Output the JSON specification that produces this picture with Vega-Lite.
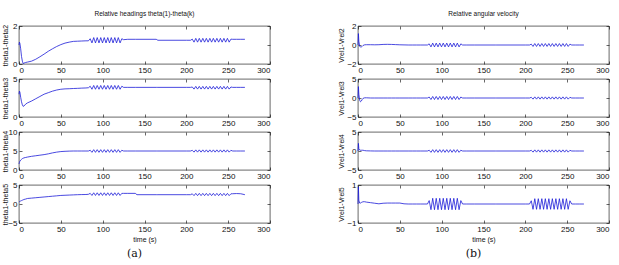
{
  "$schema": "https://vega.github.io/schema/vega-lite/v6.json",
  "padding": {"left": 0, "top": 10, "right": 2, "bottom": 2},
  "data": {"values": [
    {"t":0,"a1":1.0,"a2":3.0,"a3":1.6,"a4":0.5,"b1":0,"b2":0,"b3":0,"b4":0},
    {"t":0.5,"a1":1.15,"a2":3.4,"a3":2.0,"a4":0.6,"b1":1.2,"b2":3.0,"b3":2.0,"b4":0.9},
    {"t":1,"a1":1.1,"a2":3.3,"a3":2.3,"a4":0.7,"b1":0.4,"b2":1.0,"b3":0.6,"b4":0.2},
    {"t":2,"a1":0.8,"a2":2.6,"a3":2.6,"a4":0.8,"b1":-0.15,"b2":-0.6,"b3":0.25,"b4":0.05},
    {"t":3,"a1":0.4,"a2":2.0,"a3":2.8,"a4":0.9,"b1":-0.2,"b2":-1.0,"b3":0.2,"b4":0.05},
    {"t":4,"a1":0.15,"a2":1.6,"a3":3.0,"a4":1.0,"b1":-0.2,"b2":-0.8,"b3":0.2,"b4":0.08},
    {"t":5,"a1":0.02,"a2":1.4,"a3":3.1,"a4":1.1,"b1":-0.15,"b2":-0.4,"b3":0.2,"b4":0.1},
    {"t":6,"a1":0.05,"a2":1.45,"a3":3.2,"a4":1.2,"b1":-0.05,"b2":-0.1,"b3":0.2,"b4":0.12},
    {"t":8,"a1":0.08,"a2":1.7,"a3":3.3,"a4":1.3,"b1":0.02,"b2":0.05,"b3":0.1,"b4":0.12},
    {"t":10,"a1":0.1,"a2":1.85,"a3":3.4,"a4":1.45,"b1":0.03,"b2":0.05,"b3":0.05,"b4":0.1},
    {"t":15,"a1":0.15,"a2":2.1,"a3":3.6,"a4":1.55,"b1":0.03,"b2":0,"b3":0.02,"b4":0.07},
    {"t":20,"a1":0.25,"a2":2.4,"a3":3.75,"a4":1.65,"b1":0.02,"b2":0,"b3":0,"b4":0.04},
    {"t":25,"a1":0.38,"a2":2.7,"a3":3.9,"a4":1.75,"b1":0.03,"b2":0,"b3":0,"b4":0.01},
    {"t":30,"a1":0.52,"a2":3.0,"a3":4.05,"a4":1.85,"b1":0.06,"b2":0,"b3":0,"b4":0.04},
    {"t":35,"a1":0.67,"a2":3.2,"a3":4.25,"a4":1.95,"b1":0.07,"b2":0,"b3":0,"b4":0.05},
    {"t":40,"a1":0.8,"a2":3.4,"a3":4.5,"a4":2.05,"b1":0.06,"b2":0,"b3":0,"b4":0.05},
    {"t":45,"a1":0.92,"a2":3.55,"a3":4.7,"a4":2.15,"b1":0.04,"b2":0,"b3":0,"b4":0.05},
    {"t":50,"a1":1.02,"a2":3.65,"a3":4.85,"a4":2.25,"b1":0.02,"b2":0,"b3":0,"b4":0.05},
    {"t":55,"a1":1.1,"a2":3.7,"a3":4.92,"a4":2.3,"b1":0.01,"b2":0,"b3":0,"b4":0.01},
    {"t":60,"a1":1.15,"a2":3.72,"a3":4.97,"a4":2.35,"b1":0,"b2":0,"b3":0,"b4":0},
    {"t":65,"a1":1.19,"a2":3.75,"a3":5.0,"a4":2.4,"b1":0,"b2":0,"b3":0,"b4":0},
    {"t":70,"a1":1.2,"a2":3.77,"a3":5.0,"a4":2.45,"b1":0,"b2":0,"b3":0,"b4":0},
    {"t":75,"a1":1.21,"a2":3.8,"a3":5.0,"a4":2.48,"b1":0,"b2":0,"b3":0,"b4":0},
    {"t":80,"a1":1.22,"a2":3.82,"a3":5.0,"a4":2.5,"b1":0,"b2":0,"b3":0,"b4":0},
    {"t":83,"a1":1.22,"a2":3.85,"a3":5.0,"a4":2.55,"b1":0,"b2":0,"b3":0,"b4":0},
    {"t":85.1,"a1":1.33,"a2":4.05,"a3":5.2,"a4":2.8,"b1":0.12,"b2":0.25,"b3":0.2,"b4":0.18},
    {"t":87.2,"a1":1.11,"a2":3.65,"a3":4.65,"a4":2.25,"b1":-0.2,"b2":-0.4,"b3":-0.35,"b4":-0.3},
    {"t":89.3,"a1":1.39,"a2":4.15,"a3":5.35,"a4":2.95,"b1":0.2,"b2":0.4,"b3":0.35,"b4":0.3},
    {"t":91.4,"a1":1.11,"a2":3.65,"a3":4.65,"a4":2.25,"b1":-0.2,"b2":-0.4,"b3":-0.35,"b4":-0.3},
    {"t":93.5,"a1":1.39,"a2":4.15,"a3":5.35,"a4":2.95,"b1":0.2,"b2":0.4,"b3":0.35,"b4":0.3},
    {"t":95.6,"a1":1.11,"a2":3.65,"a3":4.65,"a4":2.25,"b1":-0.2,"b2":-0.4,"b3":-0.35,"b4":-0.3},
    {"t":97.7,"a1":1.39,"a2":4.15,"a3":5.35,"a4":2.95,"b1":0.2,"b2":0.4,"b3":0.35,"b4":0.3},
    {"t":99.8,"a1":1.11,"a2":3.65,"a3":4.65,"a4":2.25,"b1":-0.2,"b2":-0.4,"b3":-0.35,"b4":-0.3},
    {"t":101.9,"a1":1.39,"a2":4.15,"a3":5.35,"a4":2.95,"b1":0.2,"b2":0.4,"b3":0.35,"b4":0.3},
    {"t":104,"a1":1.11,"a2":3.65,"a3":4.65,"a4":2.25,"b1":-0.2,"b2":-0.4,"b3":-0.35,"b4":-0.3},
    {"t":106.1,"a1":1.39,"a2":4.15,"a3":5.35,"a4":2.95,"b1":0.2,"b2":0.4,"b3":0.35,"b4":0.3},
    {"t":108.2,"a1":1.11,"a2":3.65,"a3":4.65,"a4":2.25,"b1":-0.2,"b2":-0.4,"b3":-0.35,"b4":-0.3},
    {"t":110.3,"a1":1.39,"a2":4.15,"a3":5.35,"a4":2.95,"b1":0.2,"b2":0.4,"b3":0.35,"b4":0.3},
    {"t":112.4,"a1":1.11,"a2":3.65,"a3":4.65,"a4":2.25,"b1":-0.2,"b2":-0.4,"b3":-0.35,"b4":-0.3},
    {"t":114.5,"a1":1.39,"a2":4.15,"a3":5.35,"a4":2.95,"b1":0.2,"b2":0.4,"b3":0.35,"b4":0.3},
    {"t":116.6,"a1":1.11,"a2":3.65,"a3":4.65,"a4":2.25,"b1":-0.2,"b2":-0.4,"b3":-0.35,"b4":-0.3},
    {"t":118.7,"a1":1.39,"a2":4.15,"a3":5.35,"a4":2.95,"b1":0.2,"b2":0.4,"b3":0.35,"b4":0.3},
    {"t":120.8,"a1":1.11,"a2":3.65,"a3":4.65,"a4":2.25,"b1":-0.2,"b2":-0.4,"b3":-0.35,"b4":-0.3},
    {"t":122.9,"a1":1.33,"a2":4.05,"a3":5.2,"a4":2.8,"b1":0.12,"b2":0.25,"b3":0.2,"b4":0.18},
    {"t":125,"a1":1.28,"a2":3.9,"a3":5.0,"a4":2.8,"b1":0,"b2":0,"b3":0,"b4":0},
    {"t":130,"a1":1.3,"a2":3.9,"a3":5.0,"a4":2.8,"b1":0,"b2":0,"b3":0,"b4":0},
    {"t":139,"a1":1.3,"a2":3.9,"a3":5.0,"a4":2.8,"b1":0,"b2":0,"b3":0,"b4":0},
    {"t":141,"a1":1.3,"a2":3.9,"a3":5.0,"a4":2.45,"b1":0,"b2":0,"b3":0,"b4":0},
    {"t":164,"a1":1.3,"a2":3.9,"a3":5.0,"a4":2.45,"b1":0,"b2":0,"b3":0,"b4":0},
    {"t":166,"a1":1.25,"a2":3.9,"a3":5.0,"a4":2.45,"b1":0,"b2":0,"b3":0,"b4":0},
    {"t":200,"a1":1.25,"a2":3.9,"a3":5.0,"a4":2.45,"b1":0,"b2":0,"b3":0,"b4":0},
    {"t":205,"a1":1.25,"a2":3.9,"a3":5.0,"a4":2.45,"b1":0,"b2":0,"b3":0,"b4":0},
    {"t":207.1,"a1":1.31,"a2":3.95,"a3":5.18,"a4":2.68,"b1":0.09,"b2":0.18,"b3":0.18,"b4":0.17},
    {"t":209.2,"a1":1.15,"a2":3.67,"a3":4.7,"a4":2.2,"b1":-0.15,"b2":-0.3,"b3":-0.3,"b4":-0.28},
    {"t":211.3,"a1":1.35,"a2":4.03,"a3":5.3,"a4":2.8,"b1":0.15,"b2":0.3,"b3":0.3,"b4":0.28},
    {"t":213.4,"a1":1.15,"a2":3.67,"a3":4.7,"a4":2.2,"b1":-0.15,"b2":-0.3,"b3":-0.3,"b4":-0.28},
    {"t":215.5,"a1":1.35,"a2":4.03,"a3":5.3,"a4":2.8,"b1":0.15,"b2":0.3,"b3":0.3,"b4":0.28},
    {"t":217.6,"a1":1.15,"a2":3.67,"a3":4.7,"a4":2.2,"b1":-0.15,"b2":-0.3,"b3":-0.3,"b4":-0.28},
    {"t":219.7,"a1":1.35,"a2":4.03,"a3":5.3,"a4":2.8,"b1":0.15,"b2":0.3,"b3":0.3,"b4":0.28},
    {"t":221.8,"a1":1.15,"a2":3.67,"a3":4.7,"a4":2.2,"b1":-0.15,"b2":-0.3,"b3":-0.3,"b4":-0.28},
    {"t":223.9,"a1":1.35,"a2":4.03,"a3":5.3,"a4":2.8,"b1":0.15,"b2":0.3,"b3":0.3,"b4":0.28},
    {"t":226,"a1":1.15,"a2":3.67,"a3":4.7,"a4":2.2,"b1":-0.15,"b2":-0.3,"b3":-0.3,"b4":-0.28},
    {"t":228.1,"a1":1.35,"a2":4.03,"a3":5.3,"a4":2.8,"b1":0.15,"b2":0.3,"b3":0.3,"b4":0.28},
    {"t":230.2,"a1":1.15,"a2":3.67,"a3":4.7,"a4":2.2,"b1":-0.15,"b2":-0.3,"b3":-0.3,"b4":-0.28},
    {"t":232.3,"a1":1.35,"a2":4.03,"a3":5.3,"a4":2.8,"b1":0.15,"b2":0.3,"b3":0.3,"b4":0.28},
    {"t":234.4,"a1":1.15,"a2":3.67,"a3":4.7,"a4":2.2,"b1":-0.15,"b2":-0.3,"b3":-0.3,"b4":-0.28},
    {"t":236.5,"a1":1.35,"a2":4.03,"a3":5.3,"a4":2.8,"b1":0.15,"b2":0.3,"b3":0.3,"b4":0.28},
    {"t":238.6,"a1":1.15,"a2":3.67,"a3":4.7,"a4":2.2,"b1":-0.15,"b2":-0.3,"b3":-0.3,"b4":-0.28},
    {"t":240.7,"a1":1.35,"a2":4.03,"a3":5.3,"a4":2.8,"b1":0.15,"b2":0.3,"b3":0.3,"b4":0.28},
    {"t":242.8,"a1":1.15,"a2":3.67,"a3":4.7,"a4":2.2,"b1":-0.15,"b2":-0.3,"b3":-0.3,"b4":-0.28},
    {"t":244.9,"a1":1.35,"a2":4.03,"a3":5.3,"a4":2.8,"b1":0.15,"b2":0.3,"b3":0.3,"b4":0.28},
    {"t":247,"a1":1.15,"a2":3.67,"a3":4.7,"a4":2.2,"b1":-0.15,"b2":-0.3,"b3":-0.3,"b4":-0.28},
    {"t":249.1,"a1":1.35,"a2":4.03,"a3":5.3,"a4":2.8,"b1":0.15,"b2":0.3,"b3":0.3,"b4":0.28},
    {"t":251.2,"a1":1.15,"a2":3.67,"a3":4.7,"a4":2.2,"b1":-0.15,"b2":-0.3,"b3":-0.3,"b4":-0.28},
    {"t":253.3,"a1":1.31,"a2":3.95,"a3":5.18,"a4":2.68,"b1":0.09,"b2":0.18,"b3":0.18,"b4":0.17},
    {"t":255.4,"a1":1.3,"a2":3.9,"a3":5.0,"a4":2.7,"b1":0,"b2":0,"b3":0,"b4":0},
    {"t":260,"a1":1.3,"a2":3.9,"a3":5.0,"a4":2.75,"b1":0,"b2":0,"b3":0,"b4":0},
    {"t":265,"a1":1.3,"a2":3.9,"a3":5.0,"a4":2.7,"b1":0,"b2":0,"b3":0,"b4":0},
    {"t":270,"a1":1.3,"a2":3.9,"a3":5.0,"a4":2.45,"b1":0,"b2":0,"b3":0,"b4":0}
  ]},
  "columns": 2,
  "bounds": "flush",
  "spacing": {"row": 15, "column": 88},
  "concat": [
    {"width":251,"height":38,"title":"Relative headings theta(1)-theta(k)",
     "layer":[
      {"mark":"line","encoding":{"x":{"field":"t","type":"quantitative","scale":{"domain":[0,300],"nice":false},"axis":{"values":[0,50,100,150,200,250,300],"title":null}},"y":{"field":"a1","type":"quantitative","scale":{"domain":[0,2],"nice":false},"axis":{"values":[0,1,2],"format":"d","title":"theta1-theta2"}}}},
      {"mark":{"type":"line","opacity":0},"encoding":{"x":{"field":"t","type":"quantitative","scale":{"domain":[0,300],"nice":false},"axis":{"orient":"top","values":[0,50,100,150,200,250,300],"labels":false,"title":null}},"y":{"field":"a1","type":"quantitative","scale":{"domain":[0,2],"nice":false},"axis":{"orient":"right","values":[0,1,2],"labels":false,"title":null}}}}
     ],"resolve":{"axis":{"x":"independent","y":"independent"}}},
    {"width":251,"height":38,"title":"Relative angular velocity",
     "layer":[
      {"mark":"line","encoding":{"x":{"field":"t","type":"quantitative","scale":{"domain":[0,300],"nice":false},"axis":{"values":[0,50,100,150,200,250,300],"title":null}},"y":{"field":"b1","type":"quantitative","scale":{"domain":[-2,2],"nice":false},"axis":{"values":[-2,0,2],"format":"d","title":"Vrel1-Vrel2","minExtent":13,"maxExtent":13}}}},
      {"mark":{"type":"line","opacity":0},"encoding":{"x":{"field":"t","type":"quantitative","scale":{"domain":[0,300],"nice":false},"axis":{"orient":"top","values":[0,50,100,150,200,250,300],"labels":false,"title":null}},"y":{"field":"b1","type":"quantitative","scale":{"domain":[-2,2],"nice":false},"axis":{"orient":"right","values":[-2,0,2],"labels":false,"title":null}}}}
     ],"resolve":{"axis":{"x":"independent","y":"independent"}}},
    {"width":251,"height":38,
     "layer":[
      {"mark":"line","encoding":{"x":{"field":"t","type":"quantitative","scale":{"domain":[0,300],"nice":false},"axis":{"values":[0,50,100,150,200,250,300],"title":null}},"y":{"field":"a2","type":"quantitative","scale":{"domain":[0,5],"nice":false},"axis":{"values":[0,5],"format":"d","title":"theta1-theta3"}}}},
      {"mark":{"type":"line","opacity":0},"encoding":{"x":{"field":"t","type":"quantitative","scale":{"domain":[0,300],"nice":false},"axis":{"orient":"top","values":[0,50,100,150,200,250,300],"labels":false,"title":null}},"y":{"field":"a2","type":"quantitative","scale":{"domain":[0,5],"nice":false},"axis":{"orient":"right","values":[0,5],"labels":false,"title":null}}}}
     ],"resolve":{"axis":{"x":"independent","y":"independent"}}},
    {"width":251,"height":38,
     "layer":[
      {"mark":"line","encoding":{"x":{"field":"t","type":"quantitative","scale":{"domain":[0,300],"nice":false},"axis":{"values":[0,50,100,150,200,250,300],"title":null}},"y":{"field":"b2","type":"quantitative","scale":{"domain":[-5,5],"nice":false},"axis":{"values":[-5,0,5],"format":"d","title":"Vrel1-Vrel3","minExtent":13,"maxExtent":13}}}},
      {"mark":{"type":"line","opacity":0},"encoding":{"x":{"field":"t","type":"quantitative","scale":{"domain":[0,300],"nice":false},"axis":{"orient":"top","values":[0,50,100,150,200,250,300],"labels":false,"title":null}},"y":{"field":"b2","type":"quantitative","scale":{"domain":[-5,5],"nice":false},"axis":{"orient":"right","values":[-5,0,5],"labels":false,"title":null}}}}
     ],"resolve":{"axis":{"x":"independent","y":"independent"}}},
    {"width":251,"height":38,
     "layer":[
      {"mark":"line","encoding":{"x":{"field":"t","type":"quantitative","scale":{"domain":[0,300],"nice":false},"axis":{"values":[0,50,100,150,200,250,300],"title":null}},"y":{"field":"a3","type":"quantitative","scale":{"domain":[0,10],"nice":false},"axis":{"values":[0,5,10],"format":"d","title":"theta1-theta4"}}}},
      {"mark":{"type":"line","opacity":0},"encoding":{"x":{"field":"t","type":"quantitative","scale":{"domain":[0,300],"nice":false},"axis":{"orient":"top","values":[0,50,100,150,200,250,300],"labels":false,"title":null}},"y":{"field":"a3","type":"quantitative","scale":{"domain":[0,10],"nice":false},"axis":{"orient":"right","values":[0,5,10],"labels":false,"title":null}}}}
     ],"resolve":{"axis":{"x":"independent","y":"independent"}}},
    {"width":251,"height":38,
     "layer":[
      {"mark":"line","encoding":{"x":{"field":"t","type":"quantitative","scale":{"domain":[0,300],"nice":false},"axis":{"values":[0,50,100,150,200,250,300],"title":null}},"y":{"field":"b3","type":"quantitative","scale":{"domain":[-5,5],"nice":false},"axis":{"values":[-5,0,5],"format":"d","title":"Vrel1-Vrel4","minExtent":13,"maxExtent":13}}}},
      {"mark":{"type":"line","opacity":0},"encoding":{"x":{"field":"t","type":"quantitative","scale":{"domain":[0,300],"nice":false},"axis":{"orient":"top","values":[0,50,100,150,200,250,300],"labels":false,"title":null}},"y":{"field":"b3","type":"quantitative","scale":{"domain":[-5,5],"nice":false},"axis":{"orient":"right","values":[-5,0,5],"labels":false,"title":null}}}}
     ],"resolve":{"axis":{"x":"independent","y":"independent"}}},
    {"width":251,"height":38,
     "title":{"text":"(a)","orient":"bottom","font":"DejaVu Serif","fontSize":11,"offset":6,"dx":-10},
     "layer":[
      {"mark":"line","encoding":{"x":{"field":"t","type":"quantitative","scale":{"domain":[0,300],"nice":false},"axis":{"values":[0,50,100,150,200,250,300],"title":"time (s)"}},"y":{"field":"a4","type":"quantitative","scale":{"domain":[-5,5],"nice":false},"axis":{"values":[-5,0,5],"format":"d","title":"theta1-theta5"}}}},
      {"mark":{"type":"line","opacity":0},"encoding":{"x":{"field":"t","type":"quantitative","scale":{"domain":[0,300],"nice":false},"axis":{"orient":"top","values":[0,50,100,150,200,250,300],"labels":false,"title":null}},"y":{"field":"a4","type":"quantitative","scale":{"domain":[-5,5],"nice":false},"axis":{"orient":"right","values":[-5,0,5],"labels":false,"title":null}}}}
     ],"resolve":{"axis":{"x":"independent","y":"independent"}}},
    {"width":251,"height":38,
     "title":{"text":"(b)","orient":"bottom","font":"DejaVu Serif","fontSize":11,"offset":6,"dx":-10},
     "layer":[
      {"mark":"line","encoding":{"x":{"field":"t","type":"quantitative","scale":{"domain":[0,300],"nice":false},"axis":{"values":[0,50,100,150,200,250,300],"title":"time (s)"}},"y":{"field":"b4","type":"quantitative","scale":{"domain":[-1,1],"nice":false},"axis":{"values":[-1,0,1],"format":"d","title":"Vrel1-Vrel5","minExtent":13,"maxExtent":13}}}},
      {"mark":{"type":"line","opacity":0},"encoding":{"x":{"field":"t","type":"quantitative","scale":{"domain":[0,300],"nice":false},"axis":{"orient":"top","values":[0,50,100,150,200,250,300],"labels":false,"title":null}},"y":{"field":"b4","type":"quantitative","scale":{"domain":[-1,1],"nice":false},"axis":{"orient":"right","values":[-1,0,1],"labels":false,"title":null}}}}
     ],"resolve":{"axis":{"x":"independent","y":"independent"}}}
  ],
  "config": {
    "font": "Liberation Sans",
    "view": {"stroke": "#000", "strokeWidth": 0.6},
    "axis": {"grid": false, "domain": false, "tickColor": "#000", "tickSize": -3, "tickWidth": 0.6,
             "labelFont": "Liberation Sans", "labelFontSize": 8, "labelColor": "#111", "labelPadding": 5,
             "titleFont": "Liberation Sans", "titleFontSize": 7, "titleFontWeight": "normal", "titleColor": "#111", "titlePadding": 2},
    "axisY": {"minExtent": 10, "maxExtent": 10, "titlePadding": 1},
    "title": {"fontSize": 6.5, "fontWeight": "normal", "font": "Liberation Sans", "color": "#111", "offset": 5},
    "line": {"color": "#1c1cd8", "strokeWidth": 0.8}
  }
}
